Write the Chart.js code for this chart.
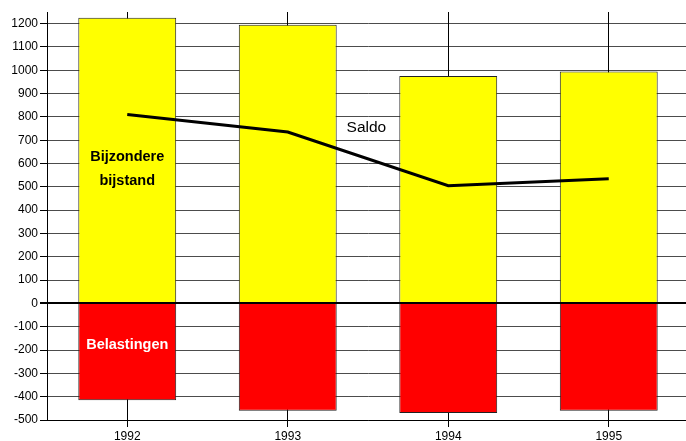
<!DOCTYPE html>
<html>
<head>
<meta charset="utf-8">
<script src="https://cdn.jsdelivr.net/npm/chart.js@4"></script>
<style>
  html, body { margin: 0; padding: 0; background: #fff; overflow: hidden; }
  #wrap { width: 686px; height: 441px; overflow: hidden; }
  #wrap div { width: 689px; height: 441px; }
</style>
</head>
<body>
<div id="wrap"><div><canvas id="bijstandChart"></canvas></div></div>
<script>
// jaren en bedragen
const years = ['1992', '1993', '1994', '1995'];
const bijstand = [1225, 1195, 975, 995];
const belastingen = [-415, -460, -470, -460];
const saldo = [810, 735, 505, 535];
const yTicks = [-500, -400, -300, -200, -100, 0, 100, 200, 300, 400, 500,
  600, 700, 800, 900, 1000, 1100, 1200];

// teksten in de grafiek: [tekst, jaar-index, waarde, kleur, font]
const labels = [
  ['Bijzondere', 0, 628, '#000', 'bold 14.5px "Liberation Sans"'],
  ['bijstand', 0, 525, '#000', 'bold 14.5px "Liberation Sans"'],
  ['Belastingen', 0, -180, '#fff', 'bold 14.5px "Liberation Sans"'],
  ['Saldo', 1.49, 752, '#000', '15.5px "Liberation Sans"']
];

const FONT = '"Liberation Sans", Arial, sans-serif';

// nul-lijn over de balken heen, plus de teksten
const overlay = {
  id: 'overlay',
  afterDatasetsDraw(chart) {
    const ctx = chart.ctx;
    const x = chart.scales.x;
    const y = chart.scales.y;
    const y0 = Math.round(y.getPixelForValue(0));
    ctx.save();
    ctx.strokeStyle = '#000';
    ctx.lineWidth = 2;
    ctx.beginPath();
    ctx.moveTo(40, y0);
    ctx.lineTo(chart.width, y0);
    ctx.stroke();

    ctx.textAlign = 'center';
    ctx.textBaseline = 'middle';
    labels.forEach(l => {
      ctx.font = l[4];
      ctx.fillStyle = l[3];
      ctx.fillText(l[0], x.getPixelForValue(l[1]), y.getPixelForValue(l[2]));
    });
    ctx.restore();
  }
};

const data = {
  labels: years,
  datasets: [
    {
      type: 'line',
      label: 'Saldo',
      data: saldo,
      borderColor: '#000',
      borderWidth: 3,
      pointRadius: 0,
      tension: 0,
      order: 0
    },
    {
      label: 'Bijzondere bijstand',
      data: bijstand,
      backgroundColor: '#ffff00',
      borderColor: '#222',
      borderWidth: 1,
      barPercentage: 0.61,
      categoryPercentage: 1,
      order: 1
    },
    {
      label: 'Belastingen',
      data: belastingen,
      backgroundColor: '#ff0000',
      borderColor: '#222',
      borderWidth: 1,
      barPercentage: 0.61,
      categoryPercentage: 1,
      order: 1
    }
  ]
};

const options = {
  responsive: true,
  maintainAspectRatio: false,
  animation: false,
  layout: { padding: { top: 12, right: 0, bottom: 0, left: 0 } },
  plugins: {
    legend: { display: false },
    tooltip: { enabled: false }
  },
  scales: {
    x: {
      stacked: true,
      afterFit: scale => { scale.height = 21; },
      grid: {
        offset: false,
        color: '#000',
        lineWidth: 1,
        tickLength: 7
      },
      border: { color: '#000', width: 1 },
      ticks: {
        color: '#000',
        padding: 2,
        font: { family: FONT, size: 12 }
      }
    },
    y: {
      min: -500,
      max: 1250,
      afterFit: scale => { scale.width = 47; },
      afterBuildTicks: scale => {
        scale.ticks = yTicks.map(v => ({ value: v }));
      },
      grid: {
        color: 'rgba(0,0,0,0.7)',
        lineWidth: 1,
        tickLength: 7,
        tickColor: '#000'
      },
      border: { color: '#000', width: 1 },
      ticks: {
        color: '#000',
        padding: 2,
        autoSkip: false,
        font: { family: FONT, size: 12 },
        callback: v => String(v)
      }
    }
  }
};

const config = {
  type: 'bar',
  data,
  options,
  plugins: [overlay]
};

const chart = new Chart(document.getElementById('bijstandChart'), config);
</script>
</body>
</html>
